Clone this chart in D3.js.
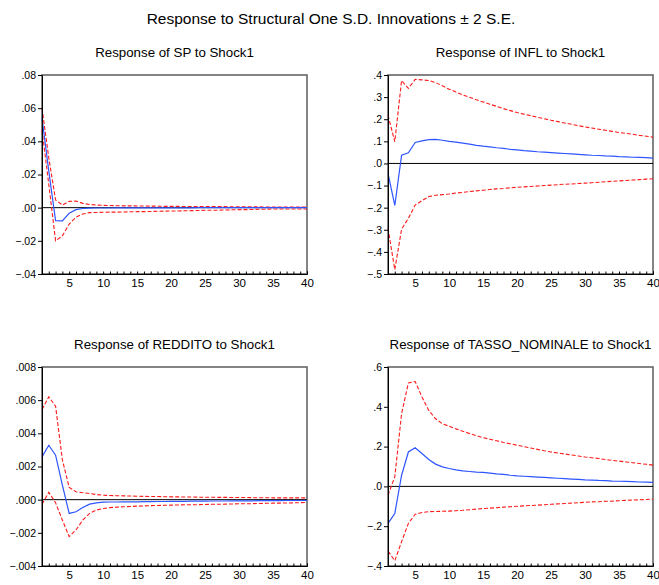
<!DOCTYPE html>
<html>
<head>
<meta charset="utf-8">
<script src="https://cdn.jsdelivr.net/npm/d3@7"></script>
<style>
  body { margin: 0; background: #fff; }
  svg { display: block; font-family: "Liberation Sans", Arial, sans-serif; }
</style>
</head>
<body>
<div id="chart"></div>
<script>
const periods = d3.range(1, 41);
const xTicks = [5, 10, 15, 20, 25, 30, 35, 40];

const spResp = [0.054, 0.022, -0.0079, -0.0080, -0.0034, -0.0012, -0.0005, -0.0003, -0.0002, -0.0002,
  -0.0002, -0.0001, -0.0001, -0.0001, -0.0001, -0.0001, -0.0001, -0.0001, -0.0001, -0.0001,
  -0.0001, -0.0001, -0.0001, 0, 0, 0, 0, 0, 0, 0, 0, 0, 0, 0, 0, 0, 0, 0, 0, 0];
const spUp = [0.060, 0.030, 0.0046, 0.0016, 0.0038, 0.0040, 0.0026, 0.0019, 0.0016, 0.0014,
  0.0013, 0.0012, 0.0011, 0.0011, 0.0010, 0.0010, 0.0009, 0.0009, 0.0008, 0.0008,
  0.0008, 0.0007, 0.0007, 0.0007, 0.0006, 0.0006, 0.0006, 0.0006, 0.0005, 0.0005,
  0.0005, 0.0005, 0.0005, 0.0004, 0.0004, 0.0004, 0.0004, 0.0004, 0.0004, 0.0004];
const spLo = [0.047, 0.014, -0.0200, -0.0170, -0.0099, -0.0058, -0.0038, -0.0030, -0.0029, -0.0028,
  -0.0027, -0.0027, -0.0026, -0.0025, -0.0024, -0.0024, -0.0023, -0.0022, -0.0021, -0.0020,
  -0.0020, -0.0019, -0.0018, -0.0017, -0.0016, -0.0016, -0.0015, -0.0014, -0.0013, -0.0012,
  -0.0012, -0.0011, -0.0010, -0.0009, -0.0008, -0.0008, -0.0008, -0.0008, -0.0008, -0.0008];

const inflResp = [-0.045, -0.19, 0.037, 0.048, 0.095, 0.102, 0.108, 0.109, 0.105, 0.100,
  0.096, 0.092, 0.087, 0.082, 0.078, 0.075, 0.071, 0.068, 0.064, 0.061,
  0.058, 0.056, 0.053, 0.051, 0.049, 0.047, 0.045, 0.043, 0.041, 0.039,
  0.037, 0.036, 0.034, 0.033, 0.031, 0.030, 0.028, 0.027, 0.026, 0.024];
const inflUp = [0.218, 0.098, 0.375, 0.340, 0.380, 0.378, 0.375, 0.366, 0.351, 0.336,
  0.323, 0.310, 0.299, 0.288, 0.278, 0.268, 0.258, 0.248, 0.239, 0.230,
  0.223, 0.216, 0.209, 0.202, 0.195, 0.189, 0.183, 0.177, 0.171, 0.165,
  0.160, 0.155, 0.150, 0.145, 0.140, 0.136, 0.132, 0.127, 0.123, 0.119];
const inflLo = [-0.293, -0.480, -0.297, -0.248, -0.188, -0.168, -0.150, -0.144, -0.141, -0.138,
  -0.134, -0.131, -0.127, -0.124, -0.121, -0.118, -0.115, -0.113, -0.110, -0.108,
  -0.106, -0.104, -0.102, -0.100, -0.098, -0.096, -0.094, -0.093, -0.091, -0.089,
  -0.087, -0.085, -0.083, -0.081, -0.079, -0.077, -0.075, -0.073, -0.071, -0.069];

const redResp = [0.00258, 0.00328, 0.00268, 0.00088, -0.00083, -0.00073, -0.00047, -0.00027, -0.00019, -0.00015,
  -0.00014, -0.00014, -0.00013, -0.00013, -0.00013, -0.00012, -0.00012, -0.00011, -0.00011, -0.00010,
  -0.00010, -0.00010, -0.00009, -0.00009, -0.00009, -0.00008, -0.00008, -0.00008, -0.00007, -0.00007,
  -0.00007, -0.00007, -0.00006, -0.00006, -0.00006, -0.00006, -0.00005, -0.00005, -0.00005, -0.00005];
const redUp = [0.00543, 0.00620, 0.00563, 0.00240, 0.00074, 0.00048, 0.00042, 0.00037, 0.00031, 0.00027,
  0.00025, 0.00024, 0.00023, 0.00022, 0.00021, 0.00020, 0.00019, 0.00019, 0.00018, 0.00017,
  0.00017, 0.00016, 0.00016, 0.00015, 0.00015, 0.00015, 0.00014, 0.00014, 0.00013, 0.00013,
  0.00013, 0.00012, 0.00012, 0.00012, 0.00011, 0.00011, 0.00011, 0.00011, 0.00011, 0.00011];
const redLo = [-0.00027, 0.00044, -0.00019, -0.00123, -0.00223, -0.00183, -0.00123, -0.00083, -0.00063, -0.00053,
  -0.00048, -0.00045, -0.00043, -0.00041, -0.00039, -0.00038, -0.00036, -0.00035, -0.00034, -0.00033,
  -0.00032, -0.00031, -0.00031, -0.00030, -0.00029, -0.00028, -0.00028, -0.00027, -0.00026, -0.00025,
  -0.00025, -0.00024, -0.00023, -0.00022, -0.00021, -0.00021, -0.00020, -0.00019, -0.00018, -0.00017];

const tassoResp = [-0.186, -0.136, 0.056, 0.173, 0.194, 0.165, 0.135, 0.112, 0.098, 0.090,
  0.083, 0.078, 0.075, 0.072, 0.070, 0.067, 0.063, 0.060, 0.056, 0.053,
  0.051, 0.049, 0.047, 0.045, 0.043, 0.041, 0.039, 0.037, 0.035, 0.033,
  0.032, 0.030, 0.029, 0.027, 0.026, 0.025, 0.024, 0.022, 0.021, 0.020];
const tassoUp = [-0.044, 0.048, 0.366, 0.520, 0.527, 0.449, 0.382, 0.340, 0.315, 0.302,
  0.289, 0.277, 0.266, 0.255, 0.245, 0.237, 0.229, 0.221, 0.214, 0.207,
  0.200, 0.193, 0.186, 0.179, 0.173, 0.168, 0.163, 0.158, 0.153, 0.148,
  0.144, 0.140, 0.135, 0.131, 0.127, 0.123, 0.119, 0.115, 0.111, 0.107];
const tassoLo = [-0.325, -0.373, -0.278, -0.186, -0.140, -0.131, -0.127, -0.126, -0.125, -0.124,
  -0.122, -0.120, -0.117, -0.114, -0.111, -0.109, -0.107, -0.104, -0.102, -0.100,
  -0.098, -0.096, -0.094, -0.092, -0.090, -0.088, -0.086, -0.084, -0.082, -0.080,
  -0.078, -0.077, -0.075, -0.074, -0.072, -0.070, -0.069, -0.067, -0.066, -0.064];

const panels = [
  { title: "Response of SP to Shock1", resp: spResp, up: spUp, lo: spLo,
    yTicks: [-0.04, -0.02, 0, 0.02, 0.04, 0.06, 0.08], dec: 2, left: 42, top: 75 },
  { title: "Response of INFL to Shock1", resp: inflResp, up: inflUp, lo: inflLo,
    yTicks: [-0.5, -0.4, -0.3, -0.2, -0.1, 0, 0.1, 0.2, 0.3, 0.4], dec: 1, left: 388, top: 75 },
  { title: "Response of REDDITO to Shock1", resp: redResp, up: redUp, lo: redLo,
    yTicks: [-0.004, -0.002, 0, 0.002, 0.004, 0.006, 0.008], dec: 3, left: 42, top: 367 },
  { title: "Response of TASSO_NOMINALE to Shock1", resp: tassoResp, up: tassoUp, lo: tassoLo,
    yTicks: [-0.4, -0.2, 0, 0.2, 0.4, 0.6], dec: 1, left: 388, top: 367 }
];

const width = 659, height = 585;
const pw = 265, ph = 199;

const svg = d3.select("#chart").append("svg")
  .attr("width", width)
  .attr("height", height);

svg.append("text")
  .attr("x", 331).attr("y", 24)
  .attr("text-anchor", "middle")
  .attr("font-size", 15.5)
  .attr("fill", "#000")
  .text("Response to Structural One S.D. Innovations \u00b1 2 S.E.");

function fmt(dec) {
  const f = d3.format("." + dec + "f");
  return d => f(d).replace("0.", ".");
}

panels.forEach(p => {
  const g = svg.append("g").attr("transform", `translate(${p.left},${p.top})`);

  const x = d3.scaleLinear().domain([1, 40]).range([0, pw]);
  const y = d3.scaleLinear()
    .domain([p.yTicks[0], p.yTicks[p.yTicks.length - 1]])
    .range([ph, 0]);

  g.append("text")
    .attr("x", pw / 2).attr("y", -18)
    .attr("text-anchor", "middle")
    .attr("font-size", 13.3)
    .text(p.title);

  // frame
  g.append("rect")
    .attr("width", pw).attr("height", ph)
    .attr("fill", "none")
    .attr("stroke", "#666")
    .attr("stroke-width", 1.6);

  // zero line
  g.append("line")
    .attr("x1", 0).attr("x2", pw)
    .attr("y1", y(0)).attr("y2", y(0))
    .attr("stroke", "#000").attr("stroke-width", 1);

  const line = d3.line().x((d, i) => x(periods[i])).y(d => y(d));

  [p.up, p.lo].forEach(s => {
    g.append("path")
      .attr("d", line(s))
      .attr("fill", "none")
      .attr("stroke", "#ff1a1a")
      .attr("stroke-width", 1.1)
      .attr("stroke-dasharray", "4,2");
  });

  g.append("path")
    .attr("d", line(p.resp))
    .attr("fill", "none")
    .attr("stroke", "#2e55ff")
    .attr("stroke-width", 1.2);

  // y axis
  const yAxis = g.append("g")
    .call(d3.axisLeft(y).tickValues(p.yTicks).tickFormat(fmt(p.dec)).tickSize(4).tickPadding(2));
  yAxis.select(".domain").attr("stroke", "#000");
  yAxis.selectAll("text").attr("font-size", 10.5).attr("fill", "#000")
    .attr("font-family", "'Liberation Sans', Arial, sans-serif");

  // x axis: minor ticks inward, labels every 5
  const xAxis = g.append("g")
    .attr("transform", `translate(0,${ph})`)
    .call(d3.axisBottom(x).tickValues(periods).tickSize(-2.5).tickPadding(5)
      .tickFormat(d => xTicks.includes(d) ? d : ""));
  xAxis.select(".domain").attr("stroke", "#000");
  xAxis.selectAll("text").attr("font-size", 11.5).attr("fill", "#000")
    .attr("font-family", "'Liberation Sans', Arial, sans-serif");
});
</script>
</body>
</html>
